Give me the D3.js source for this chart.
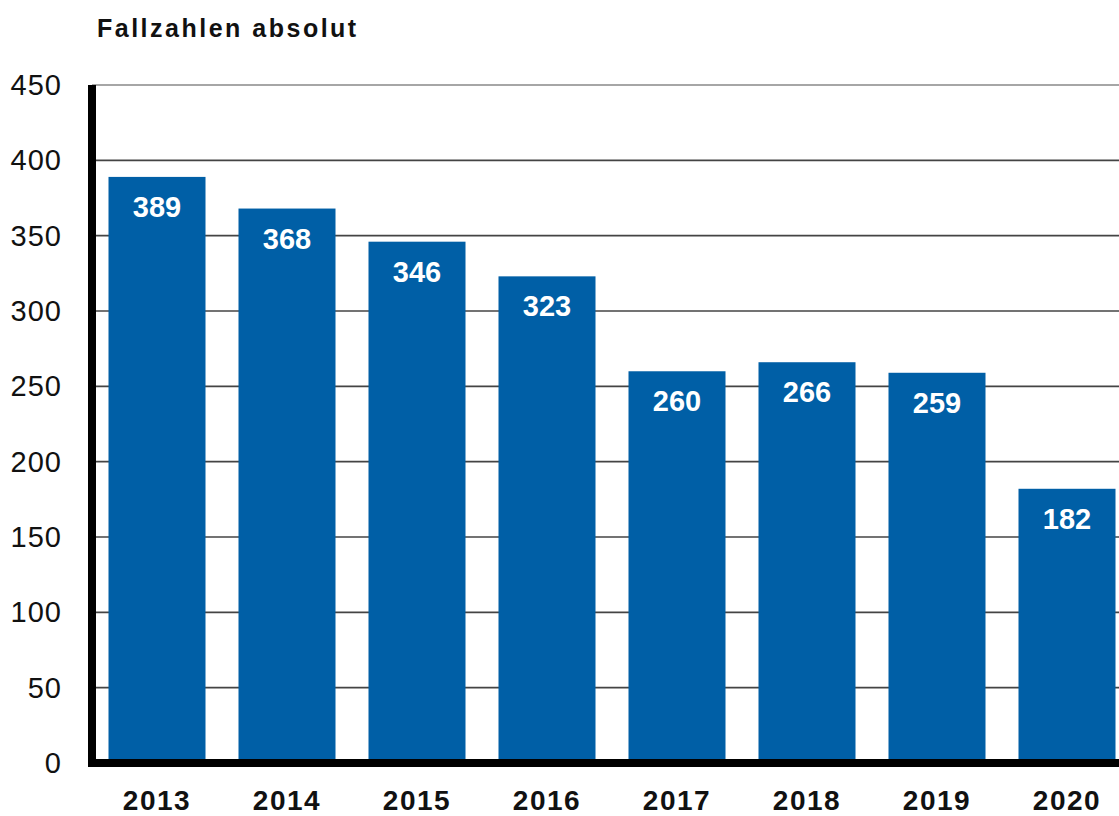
<!DOCTYPE html>
<html>
<head>
<meta charset="utf-8">
<script src="https://d3js.org/d3.v7.min.js"></script>
<style>
  body { margin: 0; background: #fff; }
  svg { display: block; font-family: "Liberation Sans", Arial, sans-serif; }
</style>
</head>
<body>
<div id="chart"></div>
<script>
// data
var years = ["2013", "2014", "2015", "2016", "2017", "2018", "2019", "2020"];
var cases = [389, 368, 346, 323, 260, 266, 259, 182];
var yTicks = [0, 50, 100, 150, 200, 250, 300, 350, 400, 450];

var W = 1119, H = 816;
var x0 = 92, y0 = 763, yTop = 85;

var svg = d3.select("#chart").append("svg")
  .attr("width", W).attr("height", H);

var x = d3.scaleBand()
  .domain(years)
  .range([x0, x0 + 8 * 130])
  .paddingInner(33 / 130)
  .paddingOuter(16.5 / 130);

var y = d3.scaleLinear()
  .domain([0, 450])
  .range([y0, yTop]);

// gridlines
svg.append("g")
  .selectAll("line")
  .data(yTicks.filter(function(d) { return d > 0; }))
  .join("line")
    .attr("x1", x0).attr("x2", W)
    .attr("y1", function(d) { return y(d); })
    .attr("y2", function(d) { return y(d); })
    .attr("stroke", function(d) { return d == 450 ? "#888" : "#444"; })
    .attr("stroke-width", 1.6);

// y tick labels
svg.append("g")
  .selectAll("text")
  .data(yTicks)
  .join("text")
    .attr("x", 62)
    .attr("y", function(d) { return y(d) + 10; })
    .attr("text-anchor", "end")
    .attr("font-size", 29)
    .attr("letter-spacing", 1)
    .attr("fill", "#111")
    .text(function(d) { return d; });

// bars
svg.append("g")
  .selectAll("rect")
  .data(cases)
  .join("rect")
    .attr("x", function(d, i) { return x(years[i]); })
    .attr("y", function(d) { return y(d); })
    .attr("width", x.bandwidth())
    .attr("height", function(d) { return y0 - y(d); })
    .attr("fill", "#005fa6");

// value labels
svg.append("g")
  .selectAll("text")
  .data(cases)
  .join("text")
    .attr("x", function(d, i) { return x(years[i]) + x.bandwidth() / 2; })
    .attr("y", function(d) { return y(d) + 40; })
    .attr("text-anchor", "middle")
    .attr("font-size", 29)
    .attr("font-weight", "bold")
    .attr("fill", "#fff")
    .text(function(d) { return d; });

// axes lines
svg.append("line")
  .attr("x1", x0).attr("x2", x0)
  .attr("y1", yTop).attr("y2", y0 + 4)
  .attr("stroke", "#000").attr("stroke-width", 8);
svg.append("line")
  .attr("x1", x0 - 4).attr("x2", W)
  .attr("y1", y0).attr("y2", y0)
  .attr("stroke", "#000").attr("stroke-width", 8);

// year labels
svg.append("g")
  .selectAll("text")
  .data(years)
  .join("text")
    .attr("x", function(d) { return x(d) + x.bandwidth() / 2; })
    .attr("y", 810)
    .attr("text-anchor", "middle")
    .attr("font-size", 28)
    .attr("font-weight", "bold")
    .attr("letter-spacing", 1.5)
    .attr("fill", "#111")
    .text(function(d) { return d; });

// title
svg.append("text")
  .attr("x", 97).attr("y", 37)
  .attr("font-size", 25)
  .attr("font-weight", "bold")
  .attr("letter-spacing", 2.5)
  .attr("fill", "#111")
  .text("Fallzahlen absolut");
</script>
</body>
</html>
